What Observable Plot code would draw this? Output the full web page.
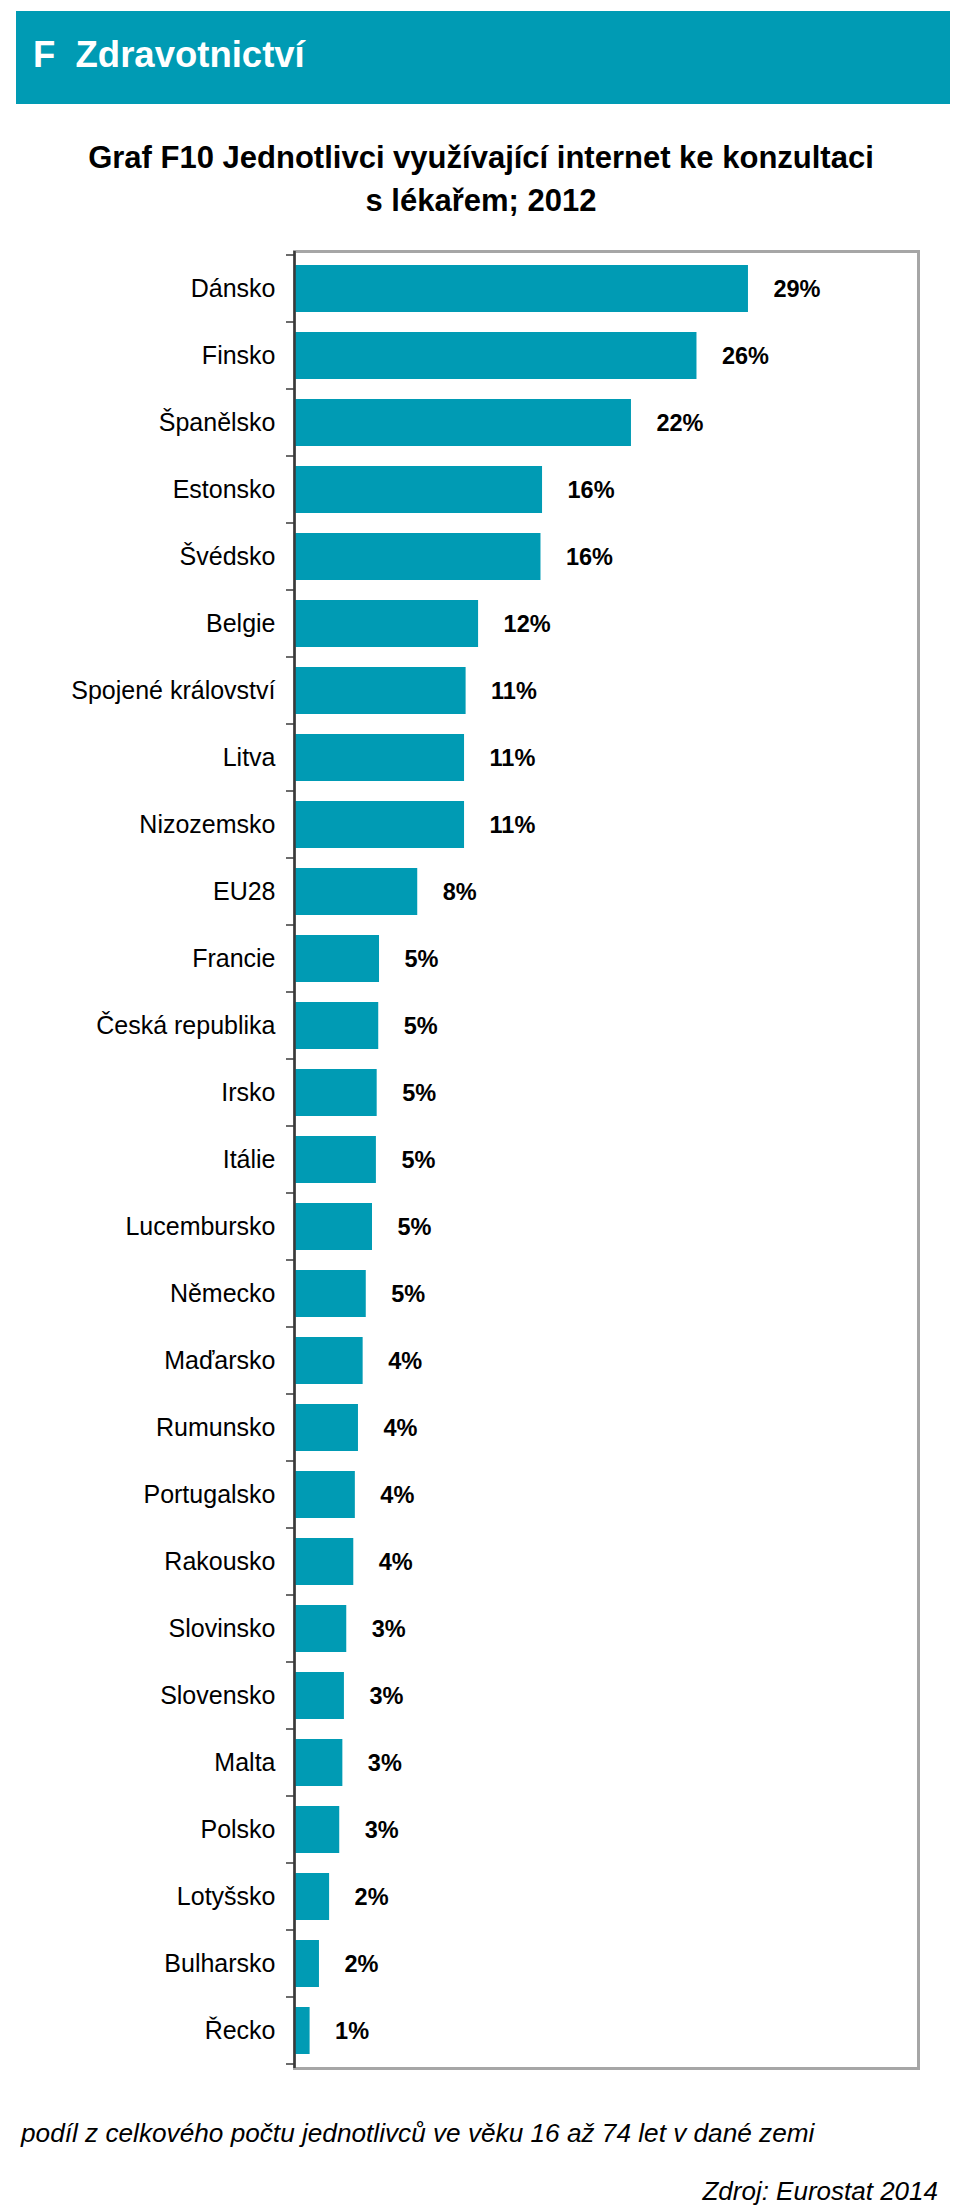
<!DOCTYPE html>
<html>
<head>
<meta charset="utf-8">
<script src="https://cdn.jsdelivr.net/npm/d3@7"></script>
<script src="https://cdn.jsdelivr.net/npm/@observablehq/plot@0.6"></script>
<style>
  html, body { margin: 0; padding: 0; background: #ffffff; }
  body { width: 960px; height: 2208px; position: relative; font-family: "Liberation Sans", Arial, sans-serif; color: #000; overflow: hidden; }
  #band { position: absolute; left: 16px; top: 11px; width: 934px; height: 93px; background: #009bb4; }
  #band span { position: absolute; left: 17px; top: 26px; font-size: 36.5px; line-height: 36px; font-weight: bold; color: #ffffff; white-space: pre; }
  #title { position: absolute; left: 0; top: 136px; width: 962px; text-align: center; font-size: 31px; line-height: 43px; font-weight: bold; }
  #chart { position: absolute; left: 0; top: 240px; }
  #caption { position: absolute; left: 21px; top: 2120px; font-size: 26.2px; line-height: 26px; font-style: italic; white-space: nowrap; }
  #source { position: absolute; right: 22px; top: 2178px; font-size: 26px; line-height: 26px; font-style: italic; white-space: nowrap; }
</style>
</head>
<body>
<div id="band"><span>F  Zdravotnictví</span></div>
<div id="title">Graf F10 Jednotlivci využívající internet ke konzultaci<br>s lékařem; 2012</div>
<div id="chart"></div>
<div id="caption">podíl z celkového počtu jednotlivců ve věku 16 až 74 let v dané zemi</div>
<div id="source">Zdroj: Eurostat 2014</div>
<script>
const countries = ["Dánsko", "Finsko", "Španělsko", "Estonsko", "Švédsko", "Belgie",
  "Spojené království", "Litva", "Nizozemsko", "EU28", "Francie", "Česká republika",
  "Irsko", "Itálie", "Lucembursko", "Německo", "Maďarsko", "Rumunsko", "Portugalsko",
  "Rakousko", "Slovinsko", "Slovensko", "Malta", "Polsko", "Lotyšsko", "Bulharsko", "Řecko"];
const values = [29.1, 25.8, 21.6, 15.9, 15.8, 11.8, 11.0, 10.9, 10.9, 7.9, 5.45, 5.4,
  5.3, 5.25, 5.0, 4.6, 4.4, 4.1, 3.9, 3.8, 3.35, 3.2, 3.1, 2.9, 2.25, 1.6, 1.0];
const shownLabels = ["29%", "26%", "22%", "16%", "16%", "12%", "11%", "11%", "11%", "8%",
  "5%", "5%", "5%", "5%", "5%", "5%", "4%", "4%", "4%", "4%", "3%", "3%", "3%", "3%", "2%", "2%", "1%"];
const xDomain = [0, 40];

const data = countries.map((c, i) => ({country: c, value: values[i], label: shownLabels[i]}));

const teal = "#009bb4";
const frameGray = "#a6a6a6";
const axisDark = "#3a3a3a";

// tick marks at category boundaries on the left axis, derived from the band scale
function boundaryTicks(index, scales) {
  const y = scales.y, x = scales.x;
  const step = y(countries[1]) - y(countries[0]);
  const bw = typeof y.bandwidth === "function" ? y.bandwidth() : step * 0.7;
  const gap = (step - bw) / 2;
  const x0 = x(0);
  const bounds = countries.map(c => y(c) - gap);
  bounds.push(y(countries[countries.length - 1]) + bw + gap);
  const ns = "http://www.w3.org/2000/svg";
  const g = document.createElementNS(ns, "g");
  for (const b of bounds) {
    const l = document.createElementNS(ns, "line");
    l.setAttribute("x1", x0 - 8);
    l.setAttribute("x2", x0);
    l.setAttribute("y1", b);
    l.setAttribute("y2", b);
    l.setAttribute("stroke", axisDark);
    l.setAttribute("stroke-width", 1.5);
    g.appendChild(l);
  }
  return g;
}

const chart = Plot.plot({
  width: 960,
  height: 1840,
  marginLeft: 294,
  marginRight: 42,
  marginTop: 11,
  marginBottom: 12,
  style: {fontFamily: "'Liberation Sans', Arial, sans-serif", color: "#000", background: "transparent", overflow: "visible"},
  x: {domain: xDomain, axis: null},
  y: {domain: countries, paddingInner: 0.3, paddingOuter: 0.15, label: null},
  marks: [
    Plot.frame({stroke: frameGray, strokeWidth: 3}),
    Plot.barX(data, {x: "value", y: "country", fill: teal}),
    Plot.text(data, {x: "value", y: "country", text: "label", dx: 25, textAnchor: "start",
      fontWeight: "bold", fontSize: 23.5, fill: "#000"}),
    Plot.ruleX([0], {stroke: axisDark, strokeWidth: 2.5}),
    boundaryTicks,
    Plot.axisY({tickSize: 0, tickPadding: 19, fontSize: 25, label: null, fill: "#000"})
  ]
});
document.getElementById("chart").appendChild(chart);
</script>
</body>
</html>
